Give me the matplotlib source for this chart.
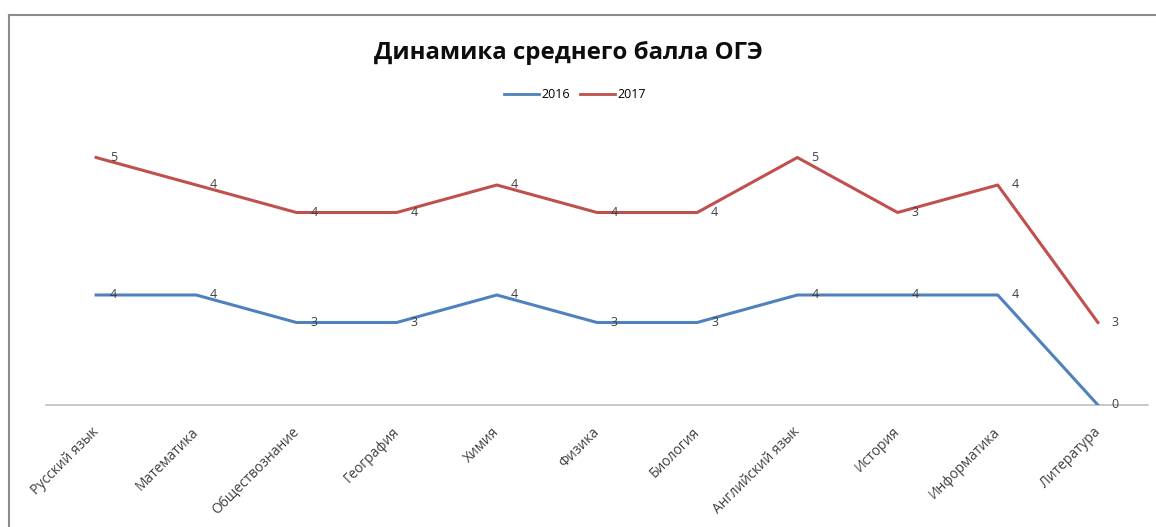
import matplotlib
matplotlib.use("Agg")
import matplotlib.pyplot as plt
import numpy as np
from matplotlib.lines import Line2D
from matplotlib.transforms import ScaledTranslation

categories = ["Русский язык", "Математика", "Обществознание", "География", "Химия",
              "Физика", "Биология", "Английский язык", "История", "Информатика", "Литература"]
vals_2016 = [4, 4, 3, 3, 4, 3, 3, 4, 4, 4, 0]
vals_2017 = [5, 4, 4, 4, 4, 4, 4, 5, 3, 4, 3]
series_names = ["2016", "2017"]
title = "Динамика среднего балла ОГЭ"

W, H = 1156, 527
fig = plt.figure(figsize=(W / 100, H / 100), dpi=100)
fig.patch.set_facecolor("white")

ax = fig.add_axes([46 / W, 1 - 405 / H, (1148 - 46) / W, (405 - 130) / H])
x = np.arange(len(categories))
a = np.array(vals_2016, dtype=float)
b = np.array(vals_2017, dtype=float)
stack2 = a + b

blue = "#4f81bd"
red = "#c0504d"
ax.plot(x, a, color=blue, lw=2.2, solid_joinstyle="round", zorder=3)
ax.plot(x, stack2, color=red, lw=2.2, solid_joinstyle="round", zorder=3)

for xi, yi, v in zip(x, a, a):
    ax.annotate(f"{v:.0f}", (xi, yi), xytext=(10, 0), textcoords="offset points",
                ha="left", va="center", fontsize=9, color="#404040", family="Open Sans", zorder=4)
for xi, yi, v in zip(x, stack2, b):
    ax.annotate(f"{v:.0f}", (xi, yi), xytext=(10, 0), textcoords="offset points",
                ha="left", va="center", fontsize=9, color="#404040", family="Open Sans", zorder=4)

ax.set_xlim(-0.5, len(categories) - 0.5)
ax.set_ylim(0, 10)
for s in ["top", "right", "left"]:
    ax.spines[s].set_visible(False)
ax.spines["bottom"].set_color("#bfbfbf")
ax.spines["bottom"].set_linewidth(1.2)
ax.set_yticks([])
ax.set_xticks(x)
ax.tick_params(axis="x", length=0, pad=14)
ax.set_xticklabels(categories, rotation=45, ha="right", rotation_mode="anchor",
                   fontsize=10, color="#404040", family="Open Sans")
shift = ScaledTranslation(-5 / 100, 0, fig.dpi_scale_trans)
for lbl in ax.get_xticklabels():
    lbl.set_transform(lbl.get_transform() + shift)

fig.text(568 / W, 1 - 53 / H, title, ha="center", va="center", fontsize=17.3,
         fontweight="bold", family="Open Sans", color="#0d0d0d")

handles = [Line2D([], [], color=blue, lw=2), Line2D([], [], color=red, lw=2)]
fig.legend(handles, series_names, loc="center", bbox_to_anchor=(575 / W, 1 - 95 / H),
           ncol=2, frameon=False, handlelength=2.8, handletextpad=0.2,
           columnspacing=0.8, prop={"family": "Open Sans", "size": 9})

# chart border (left and top visible)
fig.add_artist(Line2D([8.5 / W, 8.5 / W], [0, 1 - 15 / H], transform=fig.transFigure,
                      color="#8c8c8c", lw=1.5))
fig.add_artist(Line2D([8.5 / W, 1], [1 - 15 / H, 1 - 15 / H], transform=fig.transFigure,
                      color="#8c8c8c", lw=1.5))

fig.savefig("out.png", dpi=100, facecolor="white")
